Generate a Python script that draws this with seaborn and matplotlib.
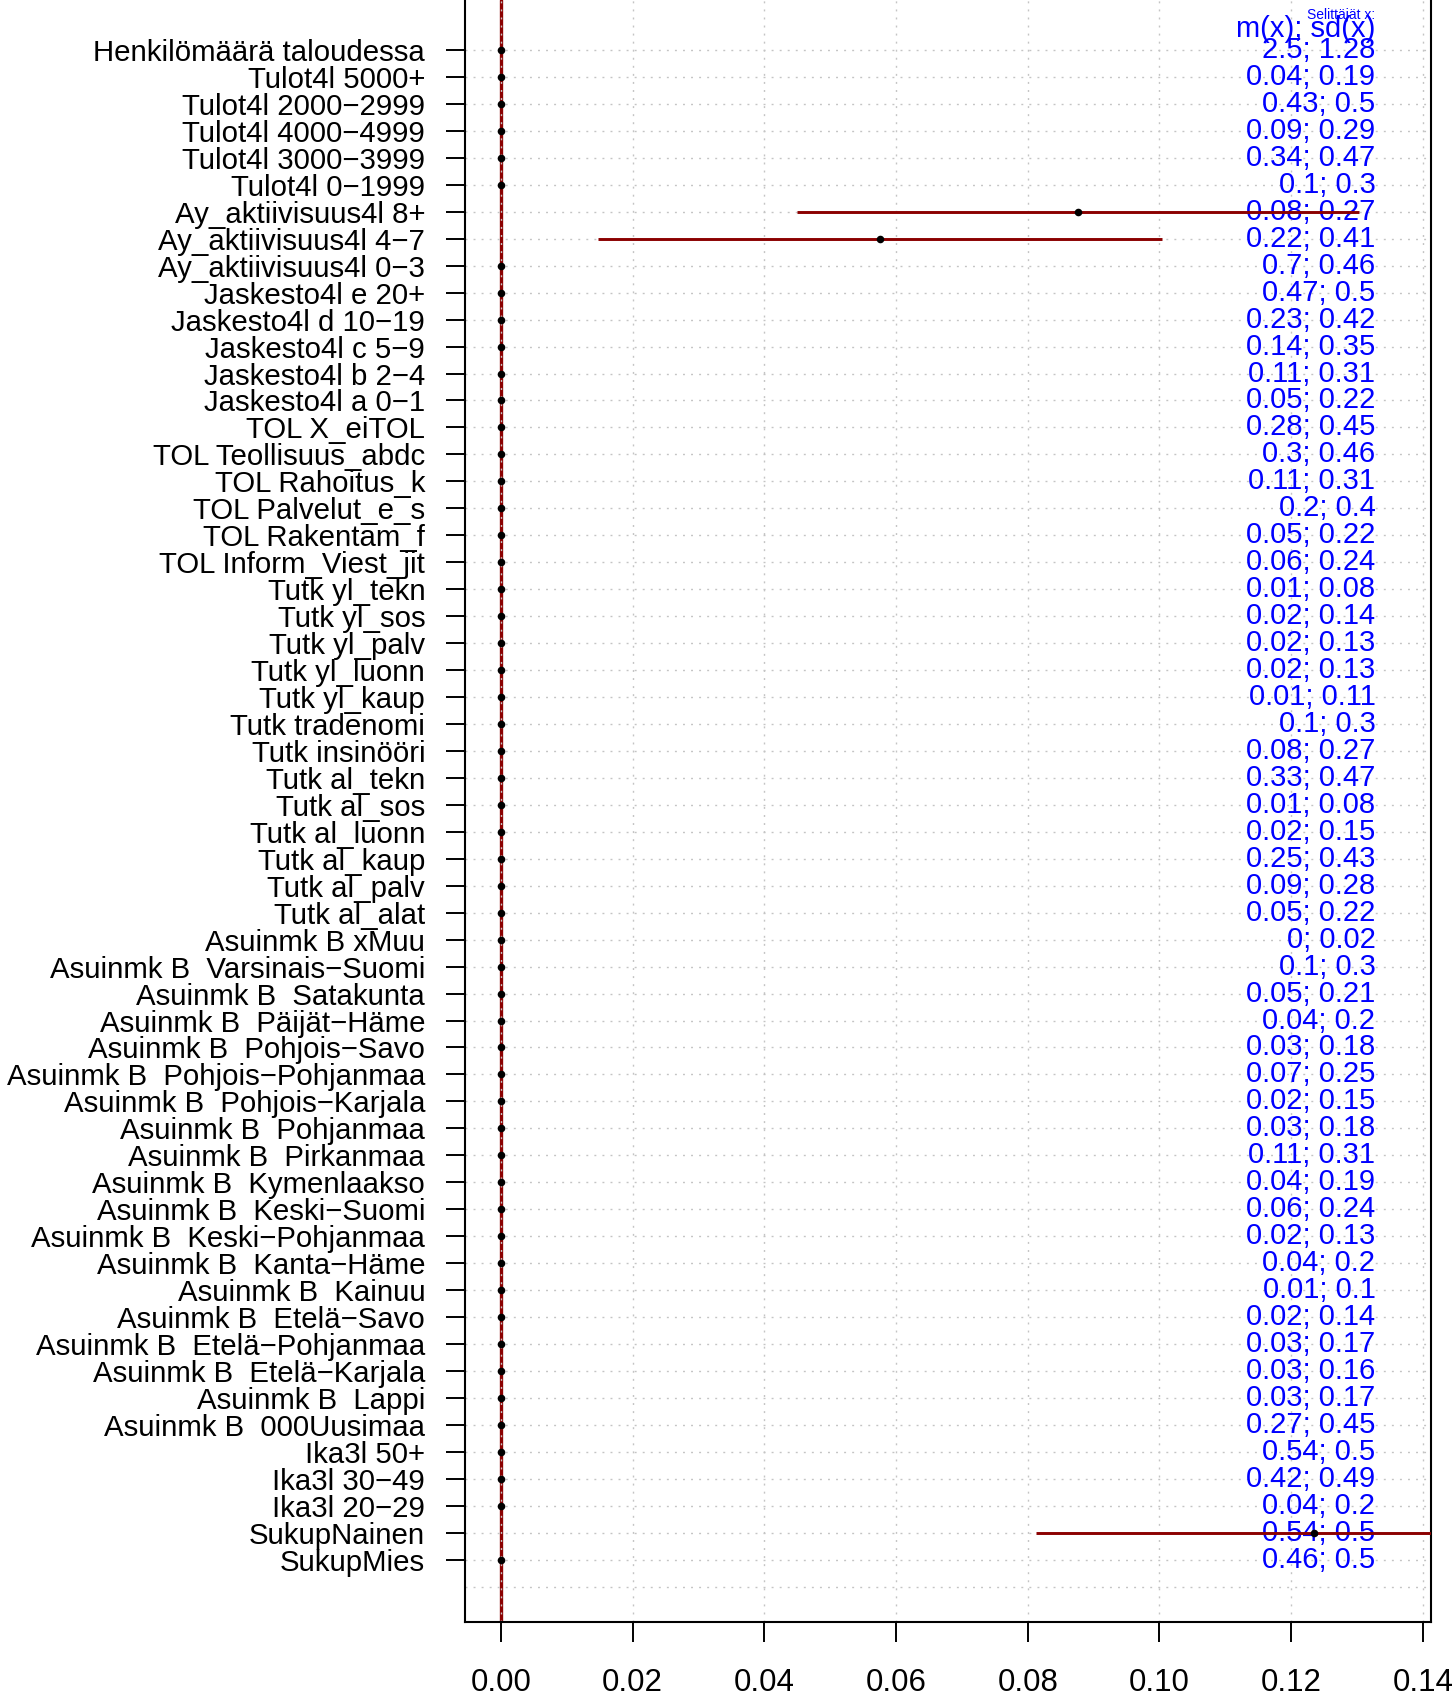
import matplotlib
matplotlib.use("Agg")
import matplotlib.pyplot as plt
import seaborn as sns
import numpy as np
import pandas as pd

# Explanatory variables, listed top to bottom
predictors = [
    "Henkilömäärä taloudessa",
    "Tulot4l 5000+",
    "Tulot4l 2000−2999",
    "Tulot4l 4000−4999",
    "Tulot4l 3000−3999",
    "Tulot4l 0−1999",
    "Ay_aktiivisuus4l 8+",
    "Ay_aktiivisuus4l 4−7",
    "Ay_aktiivisuus4l 0−3",
    "Jaskesto4l e 20+",
    "Jaskesto4l d 10−19",
    "Jaskesto4l c 5−9",
    "Jaskesto4l b 2−4",
    "Jaskesto4l a 0−1",
    "TOL X_eiTOL",
    "TOL Teollisuus_abdc",
    "TOL Rahoitus_k",
    "TOL Palvelut_e_s",
    "TOL Rakentam_f",
    "TOL Inform_Viest_jit",
    "Tutk yl_tekn",
    "Tutk yl_sos",
    "Tutk yl_palv",
    "Tutk yl_luonn",
    "Tutk yl_kaup",
    "Tutk tradenomi",
    "Tutk insinööri",
    "Tutk al_tekn",
    "Tutk al_sos",
    "Tutk al_luonn",
    "Tutk al_kaup",
    "Tutk al_palv",
    "Tutk al_alat",
    "Asuinmk B xMuu",
    "Asuinmk B  Varsinais−Suomi",
    "Asuinmk B  Satakunta",
    "Asuinmk B  Päijät−Häme",
    "Asuinmk B  Pohjois−Savo",
    "Asuinmk B  Pohjois−Pohjanmaa",
    "Asuinmk B  Pohjois−Karjala",
    "Asuinmk B  Pohjanmaa",
    "Asuinmk B  Pirkanmaa",
    "Asuinmk B  Kymenlaakso",
    "Asuinmk B  Keski−Suomi",
    "Asuinmk B  Keski−Pohjanmaa",
    "Asuinmk B  Kanta−Häme",
    "Asuinmk B  Kainuu",
    "Asuinmk B  Etelä−Savo",
    "Asuinmk B  Etelä−Pohjanmaa",
    "Asuinmk B  Etelä−Karjala",
    "Asuinmk B  Lappi",
    "Asuinmk B  000Uusimaa",
    "Ika3l 50+",
    "Ika3l 30−49",
    "Ika3l 20−29",
    "SukupNainen",
    "SukupMies",
]

# Predictor means and standard deviations
x_mean = ["2.5", "0.04", "0.43", "0.09", "0.34", "0.1", "0.08", "0.22", "0.7",
          "0.47", "0.23", "0.14", "0.11", "0.05", "0.28", "0.3", "0.11", "0.2",
          "0.05", "0.06", "0.01", "0.02", "0.02", "0.02", "0.01", "0.1", "0.08",
          "0.33", "0.01", "0.02", "0.25", "0.09", "0.05", "0", "0.1", "0.05",
          "0.04", "0.03", "0.07", "0.02", "0.03", "0.11", "0.04", "0.06", "0.02",
          "0.04", "0.01", "0.02", "0.03", "0.03", "0.03", "0.27", "0.54", "0.42",
          "0.04", "0.54", "0.46"]
x_sd = ["1.28", "0.19", "0.5", "0.29", "0.47", "0.3", "0.27", "0.41", "0.46",
        "0.5", "0.42", "0.35", "0.31", "0.22", "0.45", "0.46", "0.31", "0.4",
        "0.22", "0.24", "0.08", "0.14", "0.13", "0.13", "0.11", "0.3", "0.27",
        "0.47", "0.08", "0.15", "0.43", "0.28", "0.22", "0.02", "0.3", "0.21",
        "0.2", "0.18", "0.25", "0.15", "0.18", "0.31", "0.19", "0.24", "0.13",
        "0.2", "0.1", "0.14", "0.17", "0.16", "0.17", "0.45", "0.5", "0.49",
        "0.2", "0.5", "0.5"]

# Estimates with interval bounds (zero where the effect is nil)
estimate = [0.0] * len(predictors)
lower = [0.0] * len(predictors)
upper = [0.0] * len(predictors)
estimate[6], lower[6], upper[6] = 0.0876, 0.0450, 0.1303
estimate[7], lower[7], upper[7] = 0.0576, 0.0148, 0.1004
estimate[55], lower[55], upper[55] = 0.1235, 0.0812, 0.1658

x_ticks = [0.00, 0.02, 0.04, 0.06, 0.08, 0.10, 0.12, 0.14]
x_ticklabels = ["0.00", "0.02", "0.04", "0.06", "0.08", "0.10", "0.12", "0.14"]

df = pd.DataFrame({
    "predictor": predictors,
    "row": np.arange(len(predictors)),
    "estimate": estimate,
    "lower": lower,
    "upper": upper,
    "label": [f"{m}; {s}" for m, s in zip(x_mean, x_sd)],
})

sns.set_style("white")
plt.rcParams["font.family"] = ["Liberation Sans", "DejaVu Sans"]
plt.rcParams["text.color"] = "black"
plt.rcParams["xtick.color"] = "black"
plt.rcParams["ytick.color"] = "black"
plt.rcParams["xtick.labelcolor"] = "black"
plt.rcParams["ytick.labelcolor"] = "black"

DPI = 100
fig = plt.figure(figsize=(14.54, 16.96), dpi=DPI)
ax = fig.add_axes([465 / 1454, 1 - 1621.7 / 1696, (1430.7 - 465) / 1454, 1621.7 / 1696])

DARKRED = "#8B0000"
GRID = "#c4c4c4"
n = len(predictors)

# reference line at zero (under the grid)
ax.axvline(0, color=DARKRED, lw=2.4, zorder=1)

# dotted grid
grid_kw = dict(color=GRID, lw=1.0, linestyle=(0, (1.4, 4.4)), zorder=2)
for xv in x_ticks:
    ax.axvline(xv, **grid_kw)
for yv in list(df["row"]) + [n]:
    ax.axhline(yv, **grid_kw)

# mean; sd annotations
for r, lab in zip(df["row"], df["label"]):
    ax.text(0.1328, r, lab, ha="right", va="center", color="#0000FF",
            fontsize=21.0, zorder=3)
ax.text(0.1328, -0.78, "m(x); sd(x)", ha="right", va="center", color="#0000FF",
        fontsize=21.0, zorder=3)
ax.text(0.1328, -1.3, "Selittäjät x:", ha="right", va="center", color="#0000FF",
        fontsize=10, zorder=3)

# intervals
ci = df[df["upper"] > df["lower"]]
ax.hlines(ci["row"], ci["lower"], ci["upper"], color=DARKRED, lw=2.1,
          capstyle="butt", zorder=4)

# point estimates
sns.scatterplot(data=df, x="estimate", y="row", ax=ax, color="black", s=30,
                edgecolor="black", linewidth=0, zorder=5, legend=False)

ax.set_xlim(-0.005467, 0.14119)
ax.set_ylim(58.3, -1.855)

ax.set_yticks(df["row"])
ax.set_yticklabels(df["predictor"], fontsize=21.2, color="black")
ax.set_xticks(x_ticks)
ax.set_xticklabels(x_ticklabels, fontsize=22.5, color="black")
ax.set_xlabel("")
ax.set_ylabel("")

ax.tick_params(axis="y", direction="out", length=13.7, width=1.4, pad=15,
               color="black", left=True)
ax.tick_params(axis="x", direction="out", length=14.4, width=1.4, pad=19,
               color="black", bottom=True)

for side in ["left", "right", "bottom"]:
    ax.spines[side].set_visible(True)
    ax.spines[side].set_color("black")
    ax.spines[side].set_linewidth(1.5)
ax.spines["top"].set_visible(False)

fig.savefig("out.png", dpi=DPI, facecolor="white")
